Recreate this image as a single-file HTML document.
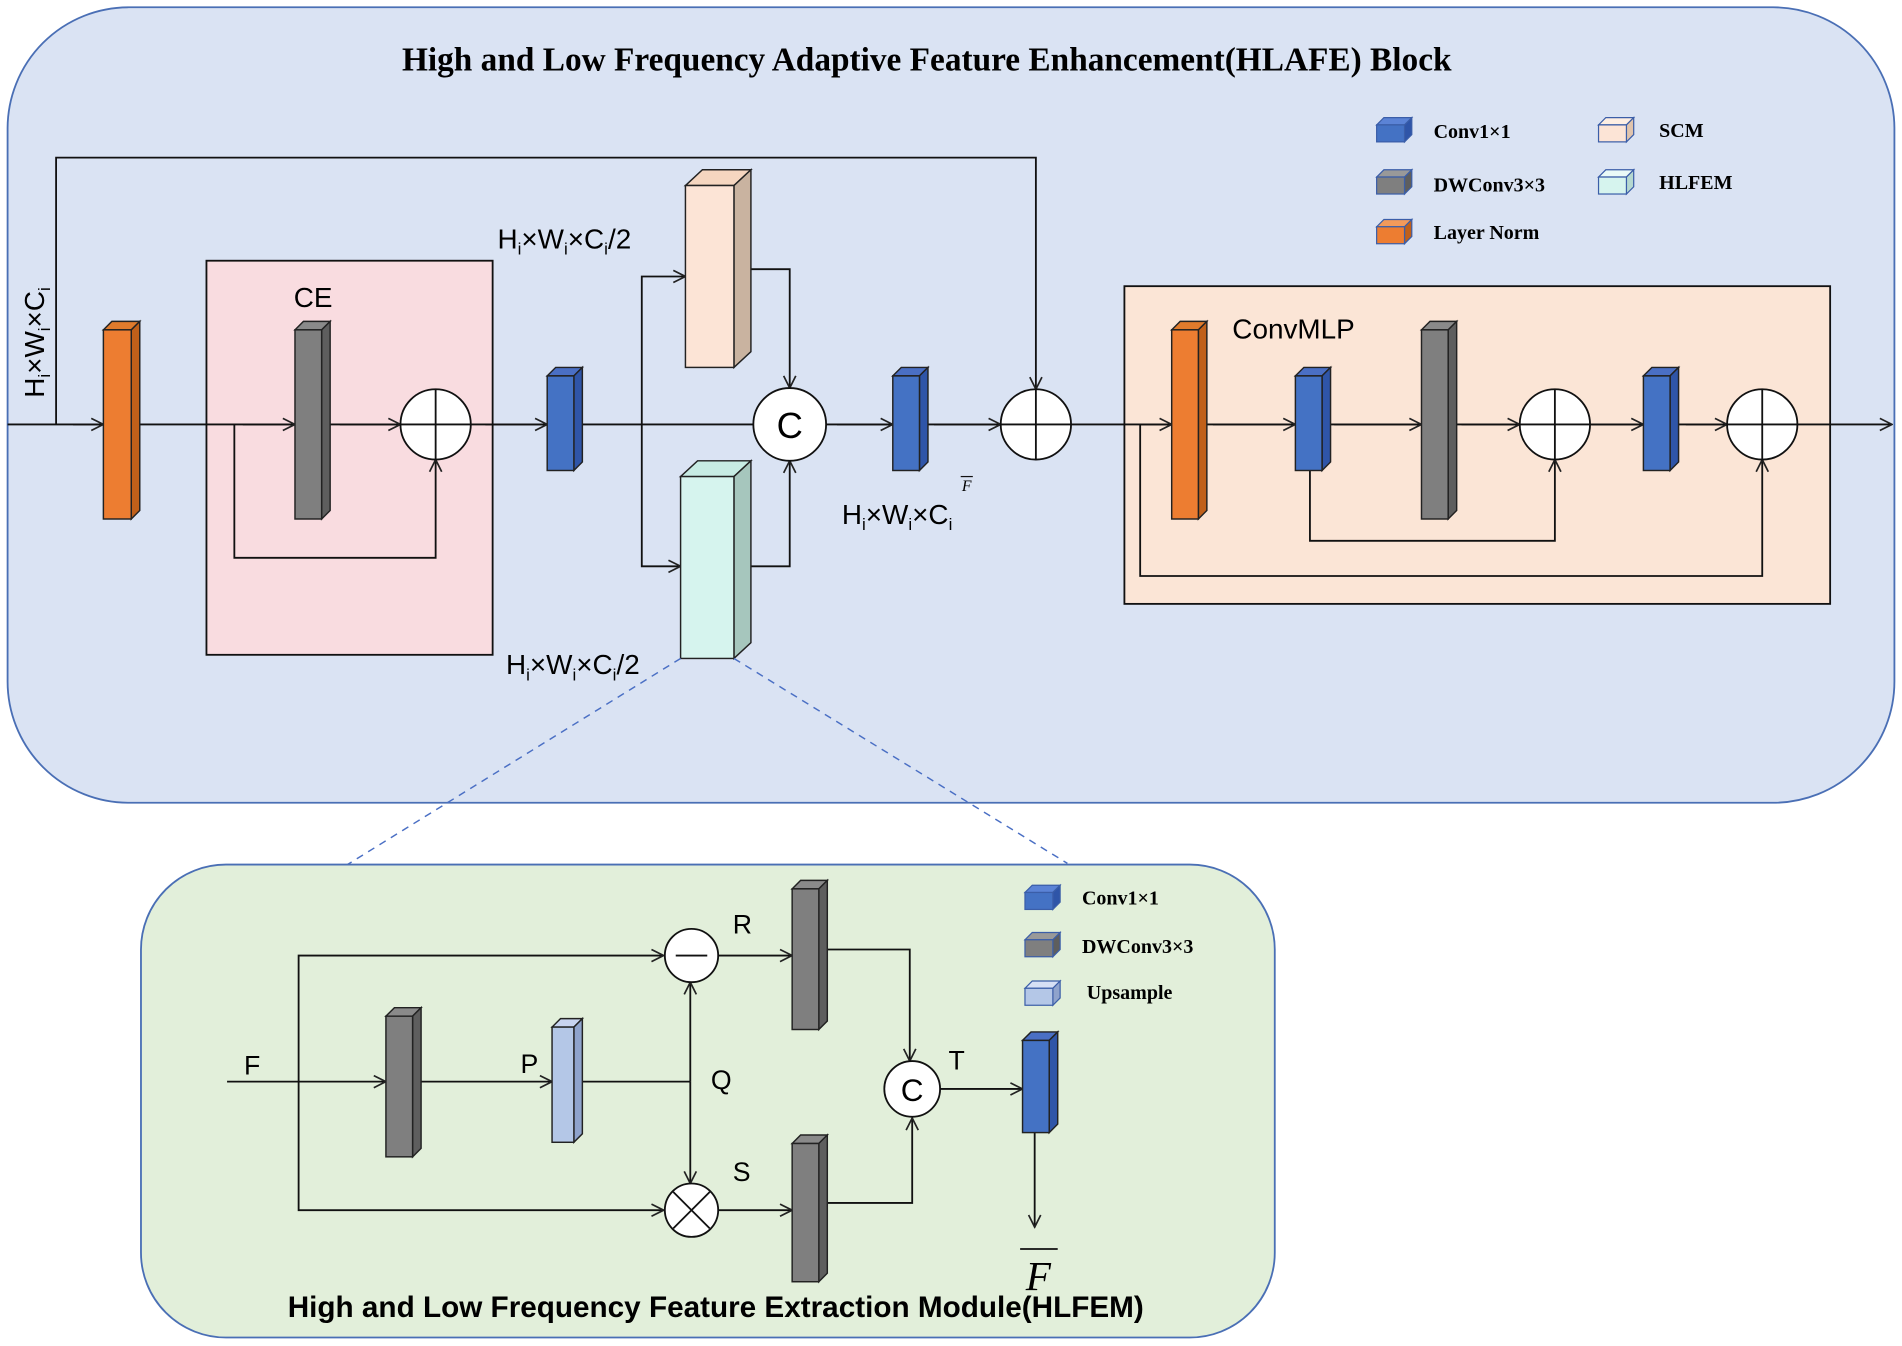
<!DOCTYPE html>
<html><head><meta charset="utf-8"><style>html,body{margin:0;padding:0;background:#fff}svg{display:block}</style></head>
<body>
<svg width="1902" height="1346" viewBox="0 0 1568 1110" xmlns="http://www.w3.org/2000/svg" font-family="Liberation Sans, sans-serif">
<defs>
<marker id="a" markerWidth="12" markerHeight="12" refX="11" refY="6" orient="auto" markerUnits="userSpaceOnUse"><path d="M1,1 L11,6 L1,11" fill="none" stroke="#222" stroke-width="1.4"/></marker>
</defs>
<rect x="6" y="6" width="1556" height="656" rx="100" fill="#dae3f3" stroke="#4a6fb5" stroke-width="1.5"/>
<text x="764" y="58" text-anchor="middle" font-family="Liberation Serif, serif" font-weight="bold" font-size="27.5">High and Low Frequency Adaptive Feature Enhancement(HLAFE) Block</text>
<g stroke="#111" stroke-width="1.5" fill="none">
<rect x="170" y="215" width="236" height="325" fill="#f9dce0"/>
<rect x="927" y="236" width="582" height="262" fill="#fbe5d6"/>
<path d="M6,350 H1560" marker-end="url(#a)"/>
<path d="M46,350 V130 H854 V321" marker-end="url(#a)"/>
<path d="M193,350 V460 H359 V379" marker-end="url(#a)"/>
<path d="M529,350 V228 H565" marker-end="url(#a)"/>
<path d="M529,350 V467 H561" marker-end="url(#a)"/>
<path d="M605,222 H651 V320" marker-end="url(#a)"/>
<path d="M605,467 H651 V380" marker-end="url(#a)"/>
<path d="M1080,388 V446 H1282 V379" marker-end="url(#a)"/>
<path d="M940,350 V475 H1453 V379" marker-end="url(#a)"/>
<path d="M60,350 H85" marker-end="url(#a)"/><path d="M200,350 H243" marker-end="url(#a)"/><path d="M280,350 H330" marker-end="url(#a)"/>
<path d="M400,350 H451" marker-end="url(#a)"/><path d="M690,350 H736" marker-end="url(#a)"/><path d="M770,350 H825" marker-end="url(#a)"/>
<path d="M940,350 H966" marker-end="url(#a)"/><path d="M1000,350 H1068" marker-end="url(#a)"/><path d="M1100,350 H1172" marker-end="url(#a)"/>
<path d="M1205,350 H1253" marker-end="url(#a)"/><path d="M1312,350 H1355" marker-end="url(#a)"/><path d="M1390,350 H1424" marker-end="url(#a)"/>
</g>
<g stroke="#222" stroke-width="1.2">
<polygon points="85,272 92,265 115,265 108,272" fill="#e07b2c"/><polygon points="108,272 115,265 115,421 108,428" fill="#c0601a"/><rect x="85" y="272" width="23" height="156" fill="#ed7d31"/>
<polygon points="243,272 250,265 272,265 265,272" fill="#8a8a8a"/><polygon points="265,272 272,265 272,421 265,428" fill="#5e5e5e"/><rect x="243" y="272" width="22" height="156" fill="#7f7f7f"/>
<polygon points="451,310 458,303 480,303 473,310" fill="#4a6fc4"/><polygon points="473,310 480,303 480,381 473,388" fill="#2f55a8"/><rect x="451" y="310" width="22" height="78" fill="#4472c4"/>
<polygon points="565,153 579,140 619,140 605,153" fill="#f5d6c0"/><polygon points="605,153 619,140 619,290 605,303" fill="#c9b3a0"/><rect x="565" y="153" width="40" height="150" fill="#fce4d6"/>
<polygon points="561,393 575,380 619,380 605,393" fill="#c7ece4"/><polygon points="605,393 619,380 619,530 605,543" fill="#a6c6bd"/><rect x="561" y="393" width="44" height="150" fill="#d6f4ee"/>
<polygon points="736,310 743,303 765,303 758,310" fill="#4a6fc4"/><polygon points="758,310 765,303 765,381 758,388" fill="#2f55a8"/><rect x="736" y="310" width="22" height="78" fill="#4472c4"/>
<polygon points="966,272 973,265 995,265 988,272" fill="#e07b2c"/><polygon points="988,272 995,265 995,421 988,428" fill="#c0601a"/><rect x="966" y="272" width="22" height="156" fill="#ed7d31"/>
<polygon points="1068,310 1075,303 1097,303 1090,310" fill="#4a6fc4"/><polygon points="1090,310 1097,303 1097,381 1090,388" fill="#2f55a8"/><rect x="1068" y="310" width="22" height="78" fill="#4472c4"/>
<polygon points="1172,272 1179,265 1201,265 1194,272" fill="#8a8a8a"/><polygon points="1194,272 1201,265 1201,421 1194,428" fill="#5e5e5e"/><rect x="1172" y="272" width="22" height="156" fill="#7f7f7f"/>
<polygon points="1355,310 1362,303 1384,303 1377,310" fill="#4a6fc4"/><polygon points="1377,310 1384,303 1384,381 1377,388" fill="#2f55a8"/><rect x="1355" y="310" width="22" height="78" fill="#4472c4"/>
</g>
<g stroke="#111" stroke-width="1.5" fill="#fff">
<circle cx="359" cy="350" r="29"/><path d="M330,350 H388 M359,321 V379"/>
<circle cx="651" cy="350" r="30"/>
<circle cx="854" cy="350" r="29"/><path d="M825,350 H883 M854,321 V379"/>
<circle cx="1282" cy="350" r="29"/><path d="M1253,350 H1311 M1282,321 V379"/>
<circle cx="1453" cy="350" r="29"/><path d="M1424,350 H1482 M1453,321 V379"/>
</g>
<text x="651" y="361" text-anchor="middle" font-size="30">C</text>
<text x="258" y="253" text-anchor="middle" font-size="23">CE</text>
<text x="1016" y="279" font-size="23">ConvMLP</text>
<text x="410" y="205" font-size="23">H<tspan font-size="14" dy="5">i</tspan><tspan dy="-5">×W</tspan><tspan font-size="14" dy="5">i</tspan><tspan dy="-5">×C</tspan><tspan font-size="14" dy="5">i</tspan><tspan dy="-5">/2</tspan></text>
<text x="417" y="556" font-size="23">H<tspan font-size="14" dy="5">i</tspan><tspan dy="-5">×W</tspan><tspan font-size="14" dy="5">i</tspan><tspan dy="-5">×C</tspan><tspan font-size="14" dy="5">i</tspan><tspan dy="-5">/2</tspan></text>
<text x="694" y="432" font-size="23">H<tspan font-size="14" dy="5">i</tspan><tspan dy="-5">×W</tspan><tspan font-size="14" dy="5">i</tspan><tspan dy="-5">×C</tspan><tspan font-size="14" dy="5">i</tspan></text>
<text x="793" y="405" font-size="13" font-style="italic" font-family="Liberation Serif, serif">F</text><path d="M792,393 H802" stroke="#111" stroke-width="1"/>
<text transform="translate(36,328) rotate(-90)" font-size="23">H<tspan font-size="14" dy="5">i</tspan><tspan dy="-5">×W</tspan><tspan font-size="14" dy="5">i</tspan><tspan dy="-5">×C</tspan><tspan font-size="14" dy="5">i</tspan></text>
<g stroke="#3b5ea8" stroke-width="1">
<polygon points="1135,103 1141,97 1164,97 1158,103" fill="#5b83d6"/><polygon points="1158,103 1164,97 1164,111 1158,117" fill="#2f55a8"/><rect x="1135" y="103" width="23" height="14" fill="#4472c4"/>
<polygon points="1135,146 1141,140 1164,140 1158,146" fill="#999"/><polygon points="1158,146 1164,140 1164,154 1158,160" fill="#5e5e5e"/><rect x="1135" y="146" width="23" height="14" fill="#7f7f7f"/>
<polygon points="1135,187 1141,181 1164,181 1158,187" fill="#f39a5a"/><polygon points="1158,187 1164,181 1164,195 1158,201" fill="#c0601a"/><rect x="1135" y="187" width="23" height="14" fill="#ed7d31"/>
<polygon points="1318,103 1324,97 1347,97 1341,103" fill="#fdeee3"/><polygon points="1341,103 1347,97 1347,111 1341,117" fill="#e0c4ad"/><rect x="1318" y="103" width="23" height="14" fill="#fce4d6"/>
<polygon points="1318,146 1324,140 1347,140 1341,146" fill="#eafaf7"/><polygon points="1341,146 1347,140 1347,154 1341,160" fill="#b5d8d0"/><rect x="1318" y="146" width="23" height="14" fill="#d6f4ee"/>
</g>
<g font-family="Liberation Serif, serif" font-weight="bold" font-size="16.5">
<text x="1182" y="114">Conv1×1</text><text x="1182" y="158">DWConv3×3</text><text x="1182" y="197">Layer Norm</text>
<text x="1368" y="113">SCM</text><text x="1368" y="156">HLFEM</text>
</g>
<path d="M561,543 L283,715 M605,543 L880,712" stroke="#4a6fc4" stroke-width="1.2" stroke-dasharray="6,5"/>
<rect x="116" y="713" width="935" height="390" rx="70" fill="#e2efda" stroke="#4a6fb5" stroke-width="1.5"/>
<g stroke="#111" stroke-width="1.5" fill="none">
<path d="M187,892 H318" marker-end="url(#a)"/>
<path d="M246,892 V788 H547" marker-end="url(#a)"/>
<path d="M246,892 V998 H547" marker-end="url(#a)"/>
<path d="M340,892 H455" marker-end="url(#a)"/>
<path d="M473,892 H569"/>
<path d="M569,892 V810" marker-end="url(#a)"/><path d="M569,892 V976" marker-end="url(#a)"/>
<path d="M592,788 H653" marker-end="url(#a)"/><path d="M592,998 H653" marker-end="url(#a)"/>
<path d="M675,783 H750 V875" marker-end="url(#a)"/><path d="M675,992 H752 V922" marker-end="url(#a)"/>
<path d="M775,898 H843" marker-end="url(#a)"/>
<path d="M853,934 V1012" marker-end="url(#a)"/>
</g>
<g stroke="#222" stroke-width="1.2">
<polygon points="318,838 325,831 347,831 340,838" fill="#8a8a8a"/><polygon points="340,838 347,831 347,947 340,954" fill="#5e5e5e"/><rect x="318" y="838" width="22" height="116" fill="#7f7f7f"/>
<polygon points="455,847 462,840 480,840 473,847" fill="#c8d4f0"/><polygon points="473,847 480,840 480,935 473,942" fill="#8fa3cc"/><rect x="455" y="847" width="18" height="95" fill="#b4c7e7"/>
<polygon points="653,733 660,726 682,726 675,733" fill="#8a8a8a"/><polygon points="675,733 682,726 682,842 675,849" fill="#5e5e5e"/><rect x="653" y="733" width="22" height="116" fill="#7f7f7f"/>
<polygon points="653,943 660,936 682,936 675,943" fill="#8a8a8a"/><polygon points="675,943 682,936 682,1050 675,1057" fill="#5e5e5e"/><rect x="653" y="943" width="22" height="114" fill="#7f7f7f"/>
<polygon points="843,858 850,851 872,851 865,858" fill="#4a6fc4"/><polygon points="865,858 872,851 872,927 865,934" fill="#2f55a8"/><rect x="843" y="858" width="22" height="76" fill="#4472c4"/>
</g>
<g stroke="#111" stroke-width="1.5" fill="#fff">
<circle cx="570" cy="788" r="22"/><path d="M557,788 H583"/>
<circle cx="570" cy="998" r="22"/><path d="M555,983 L585,1013 M585,983 L555,1013"/>
<circle cx="752" cy="898" r="23"/>
</g>
<text x="752" y="908" text-anchor="middle" font-size="26">C</text>
<g font-size="22">
<text x="201" y="886">F</text><text x="429" y="885">P</text><text x="586" y="898">Q</text><text x="604" y="770">R</text><text x="604" y="974">S</text><text x="782" y="882">T</text>
</g>
<path d="M841,1030 H872" stroke="#111" stroke-width="1.5"/>
<text x="856" y="1064" text-anchor="middle" font-family="Liberation Serif, serif" font-style="italic" font-size="34">F</text>
<text x="590" y="1086" text-anchor="middle" font-weight="bold" font-size="24.5">High and Low Frequency Feature Extraction Module(HLFEM)</text>
<g stroke="#3b5ea8" stroke-width="1">
<polygon points="845,736 851,730 874,730 868,736" fill="#5b83d6"/><polygon points="868,736 874,730 874,744 868,750" fill="#2f55a8"/><rect x="845" y="736" width="23" height="14" fill="#4472c4"/>
<polygon points="845,775 851,769 874,769 868,775" fill="#999"/><polygon points="868,775 874,769 874,783 868,789" fill="#5e5e5e"/><rect x="845" y="775" width="23" height="14" fill="#7f7f7f"/>
<polygon points="845,815 851,809 874,809 868,815" fill="#d6e0f5"/><polygon points="868,815 874,809 874,823 868,829" fill="#8fa3cc"/><rect x="845" y="815" width="23" height="14" fill="#b4c7e7"/>
</g>
<g font-family="Liberation Serif, serif" font-weight="bold" font-size="16.5">
<text x="892" y="746">Conv1×1</text><text x="892" y="786">DWConv3×3</text><text x="896" y="824">Upsample</text>
</g>
</svg>
</body></html>
